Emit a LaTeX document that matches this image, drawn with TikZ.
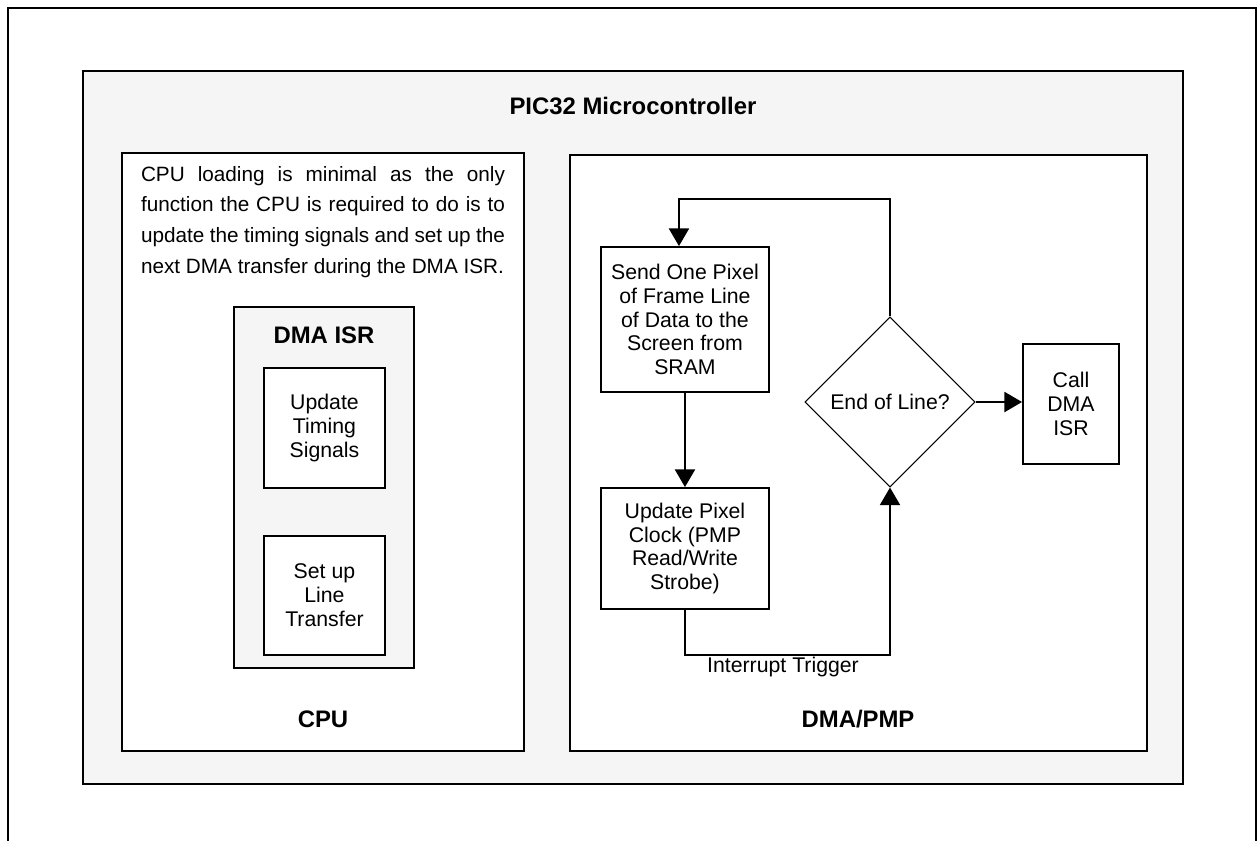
\documentclass[tikz,border=0pt]{standalone}
\usepackage{fontspec}
\setmainfont{Liberation Sans}
\usetikzlibrary{arrows.meta,shapes.geometric}
\definecolor{panelgray}{HTML}{F5F5F5}
\newcommand{\boxfont}{\fontsize{12.1}{13.6}\selectfont}
\newcommand{\parafont}{\fontsize{11.8}{17.4}\selectfont
    \hyphenpenalty=10000\exhyphenpenalty=10000}
\newcommand{\headfont}{\fontsize{13.6}{15}\selectfont\bfseries}

\begin{document}
\begin{tikzpicture}[x=0.02cm, y=-0.02cm]
    \tikzstyle{arrow} = [-{Triangle[length=10pt,width=11.5pt]}, line width=0.7pt]
    \tikzstyle{frame} = [draw=black, line width=1.1pt]
    \tikzstyle{rec} = [rectangle, draw=black, line width=1.1pt, align=center,
        fill=white, font=\boxfont, inner sep=0pt]
    \tikzstyle{head} = [font=\headfont, inner sep=0pt]

    \useasboundingbox (0,0) rectangle (1257,840);

    \draw[frame] (8,8) rectangle (1256,860);
    \draw[frame, fill=panelgray] (83,71) rectangle (1183,784);
    \draw[frame, fill=white] (122,153) rectangle (524,751);
    \draw[frame, fill=white] (570,155) rectangle (1147,751);
    \draw[frame, fill=panelgray] (234,307) rectangle (414,668);

    \node(pic) [head] at (633,106) {PIC32 Microcontroller};
    \node(cpu) [head] at (323,719) {CPU};
    \node(dmapmp) [head] at (858,719) {DMA/PMP};
    \node(isr) [head] at (324,335) {DMA ISR};

    \node(note) [text width=364*0.02cm, align=justify, font=\parafont,
        inner sep=0pt]
        at (323,166) [anchor=north]
        {CPU loading is minimal as the only function the CPU is required to
        do is to update the timing signals and set up the next DMA transfer
        during the DMA ISR.};

    \node(timing) [rec, minimum width=121*0.02cm, minimum height=120*0.02cm]
        at (263,367) [anchor=north west]
        {Update\\ Timing\\ Signals};
    \node(linetr) [rec, minimum width=121*0.02cm, minimum height=119*0.02cm]
        at (263,535) [anchor=north west]
        {Set up\\ Line\\ Transfer};

    \node(send) [rec, minimum width=168*0.02cm, minimum height=145*0.02cm]
        at (600,246) [anchor=north west]
        {Send One Pixel\\ of Frame Line\\ of Data to the\\ Screen from\\ SRAM};
    \node(pixclk) [rec, minimum width=168*0.02cm, minimum height=121*0.02cm]
        at (600,487) [anchor=north west]
        {Update Pixel\\ Clock (PMP\\ Read/Write\\ Strobe)};
    \node(eol) [diamond, draw=black, line width=0.6pt, aspect=1,
        minimum width=170*0.02cm, minimum height=170*0.02cm, inner sep=0pt,
        font=\boxfont]
        at (890,402)
        {End of Line?};
    \node(call) [rec, minimum width=96*0.02cm, minimum height=120*0.02cm]
        at (1022,343) [anchor=north west]
        {Call\\ DMA\\ ISR};

    \coordinate(trig) at (783,655);

    \draw[arrow] (send) -- (pixclk);
    \draw[arrow] (eol.east) -- (eol.east -| call.west);
    \draw[arrow] (eol.north) -- (890,199) -| ([xshift=-0.12cm]send.north);
    \draw[arrow] (pixclk.south) |- (trig) -| (eol.south);

    \node(trigtext) [font=\boxfont, inner sep=0pt] at (783,667)
        {Interrupt Trigger};
\end{tikzpicture}
\end{document}
